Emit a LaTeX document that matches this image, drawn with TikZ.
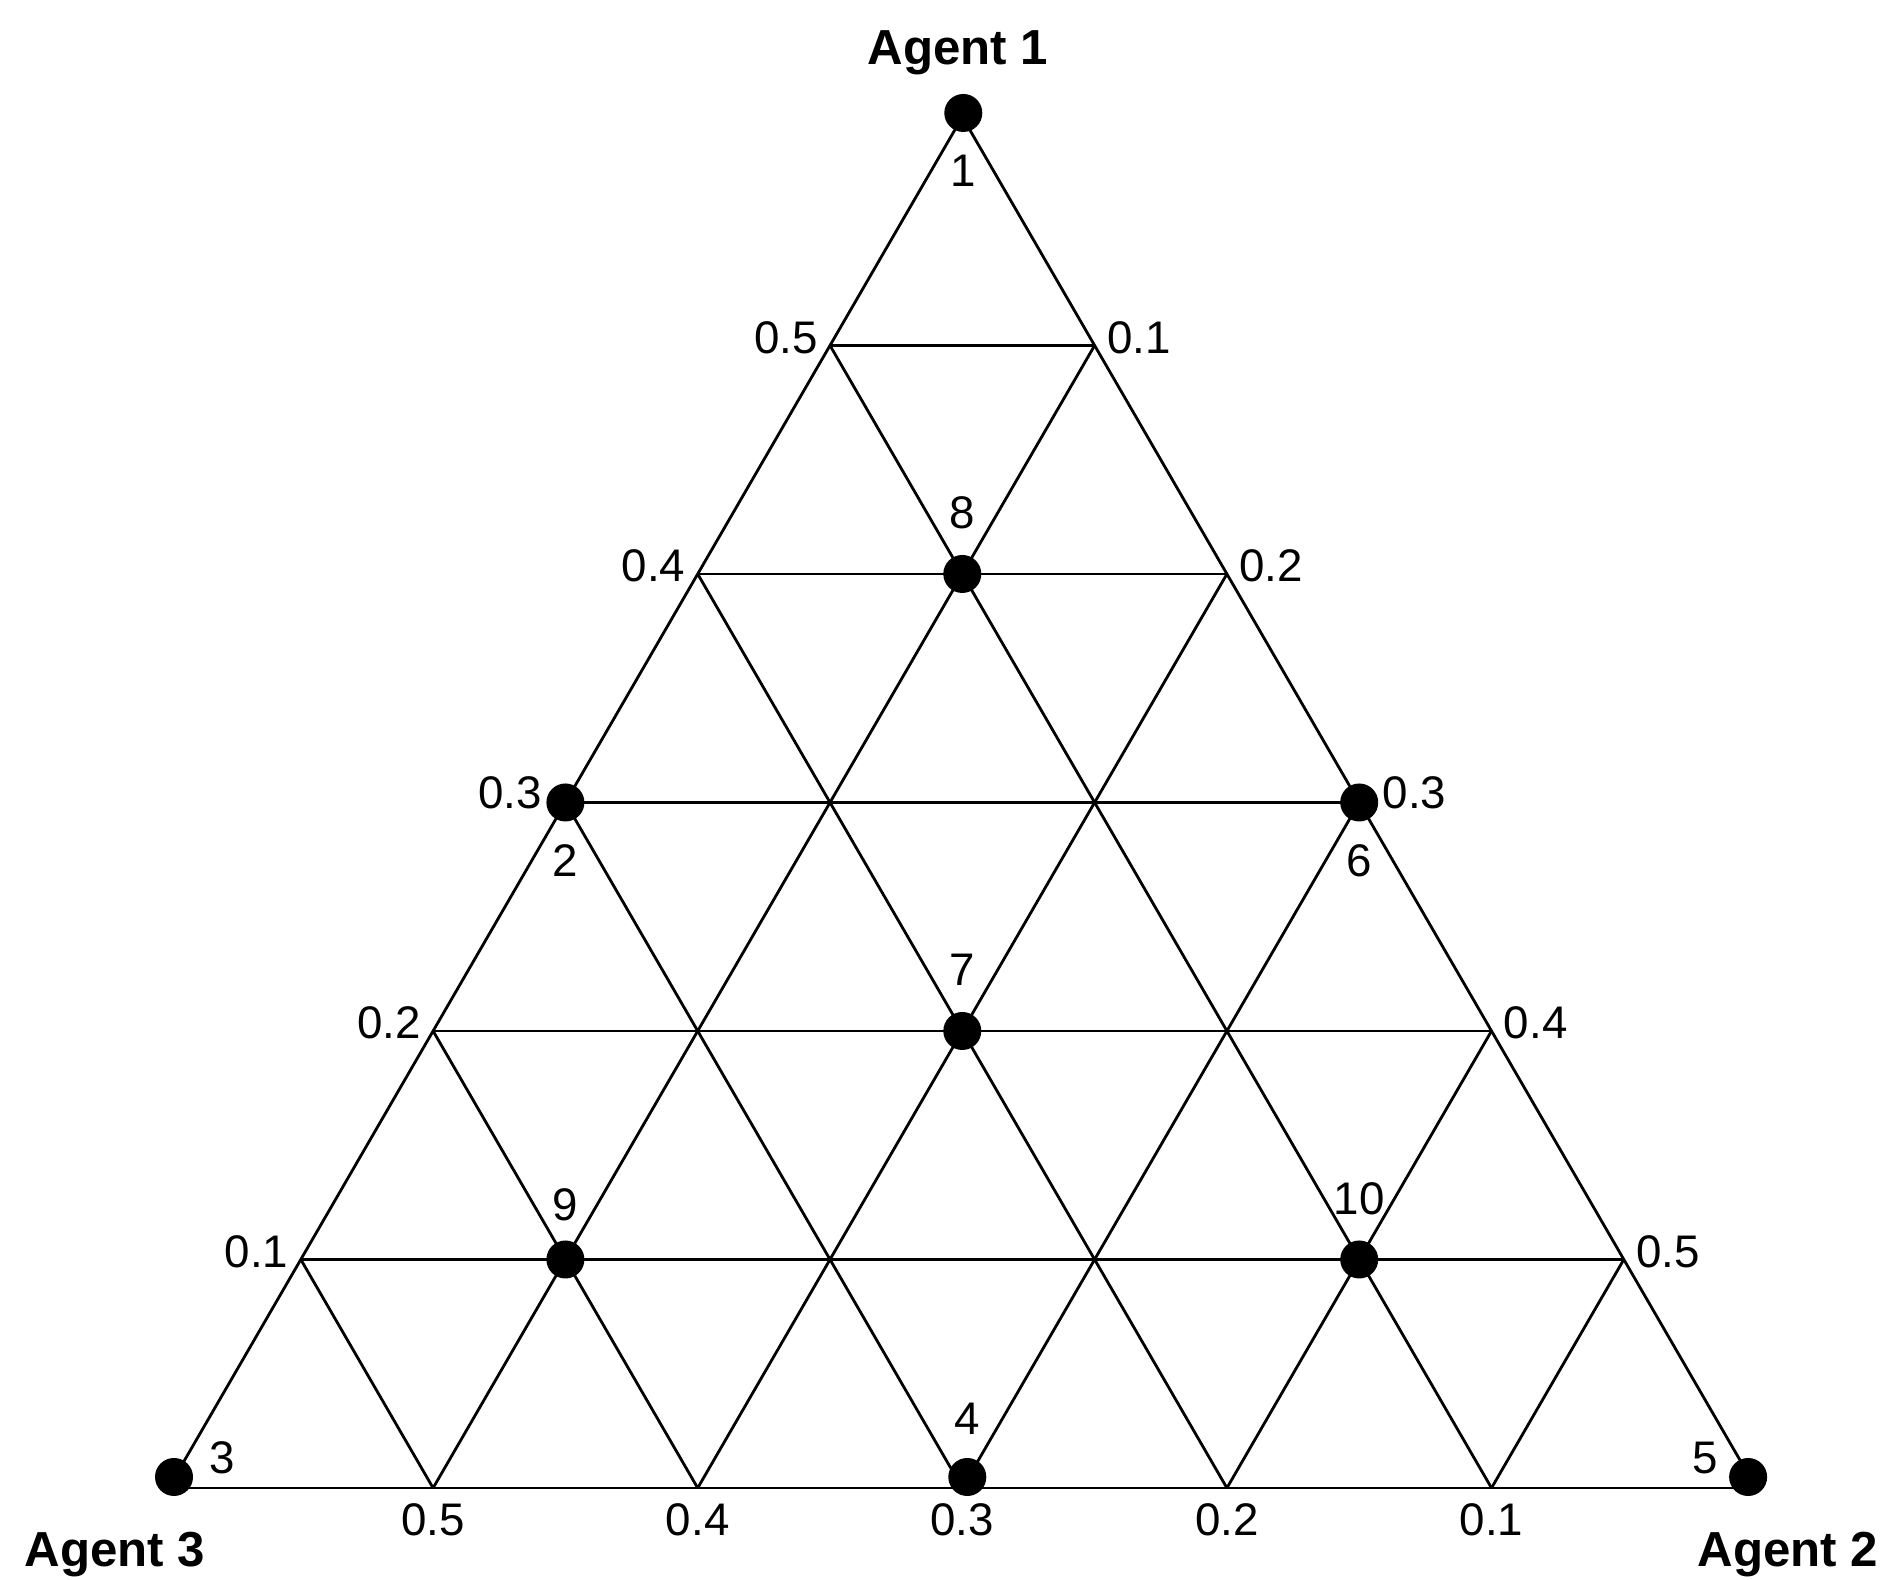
\documentclass[tikz,border=0pt]{standalone}
\usepackage{fontspec}
\setmainfont{Liberation Sans}
\usetikzlibrary{positioning}

\begin{document}
\begin{tikzpicture}[
    grid/.style={draw, line width=0.8pt},
    dot/.style={circle, fill=black, inner sep=0pt, minimum size=0.38cm},
    val/.style={font=\fontsize{13}{15}\selectfont},
    num/.style={font=\fontsize{13}{15}\selectfont},
    agent/.style={font=\fontsize{14}{16}\selectfont\bfseries, anchor=base}
]
\useasboundingbox (0,0) rectangle (18.86,15.80);

% --- Grid points ---
\foreach \i in {0,...,6} {
  \foreach \j in {0,...,6} {
    \pgfmathtruncatemacro\s{\i+\j}
    \ifnum\s<7
      \coordinate (p\i\j) at ({1.685+2.646*\i+1.323*\j}, {0.92+2.285*\j});
    \fi
  }
}

% --- Lines ---
\foreach \j [evaluate=\j as \k using int(6-\j)] in {0,...,5}
  \draw[grid] (p0\j) -- (p\k\j);
\foreach \i [evaluate=\i as \k using int(6-\i)] in {0,...,5}
  \draw[grid] (p\i0) -- (p\i\k);
\foreach \k in {1,...,6}
  \draw[grid] (p\k0) -- (p0\k);

% --- Dots ---
\node[dot] (d1) at ([shift={(0.01,0.04)}]p06) {};
\node[dot] (d2) at (p03) {};
\node[dot] (d3) at ([shift={(0.055,0.11)}]p00) {};
\node[dot] (d4) at ([shift={(0.05,0.11)}]p30) {};
\node[dot] (d5) at ([shift={(-0.08,0.11)}]p60) {};
\node[dot] (d6) at (p33) {};
\node[dot] (d7) at (p22) {};
\node[dot] (d8) at (p14) {};
\node[dot] (d9) at (p11) {};
\node[dot] (d10) at (p41) {};

% --- Dot numbers ---
\node[num, below=0.1cm of d1] (n1) {1};
\node[num, below=0.1cm of d2] (n2) {2};
\node[num] (n3) at ([shift={(0.48,0.19)}]d3) {3};
\node[num, above=0.1cm of d4] (n4) {4};
\node[num] (n5) at ([shift={(-0.43,0.19)}]d5) {5};
\node[num, below=0.1cm of d6] (n6) {6};
\node[num, above=0.13cm of d7] (n7) {7};
\node[num, above=0.13cm of d8] (n8) {8};
\node[num, above=0.06cm of d9] (n9) {9};
\node[num, above=0.12cm of d10] (n10) {10};

% --- Edge values ---
\foreach \j in {1,2,4,5}
  \node[val, anchor=east, yshift=0.08cm] (l\j) at (p0\j) {0.\j};
\node[val, anchor=east, xshift=-0.11cm, yshift=0.1cm] (l3) at (p03) {0.3};
\foreach \j [evaluate=\j as \i using int(6-\j)] in {1,2,4,5}
  \node[val, anchor=west, yshift=0.08cm] (r\j) at (p\i\j) {0.\i};
\node[val, anchor=west, xshift=0.11cm, yshift=0.1cm] (r3) at (p33) {0.3};
\foreach \i [evaluate=\i as \k using int(6-\i)] in {1,...,5}
  \node[val, anchor=north, yshift=-0.03cm] (b\i) at (p\i0) {0.\k};

% --- Agents ---
\node[agent] (a1) at (9.58,15.15) {Agent 1};
\node[agent] (a3) at (1.15,0.13) {Agent 3};
\node[agent] (a2) at (17.88,0.13) {Agent 2};

\end{tikzpicture}
\end{document}
